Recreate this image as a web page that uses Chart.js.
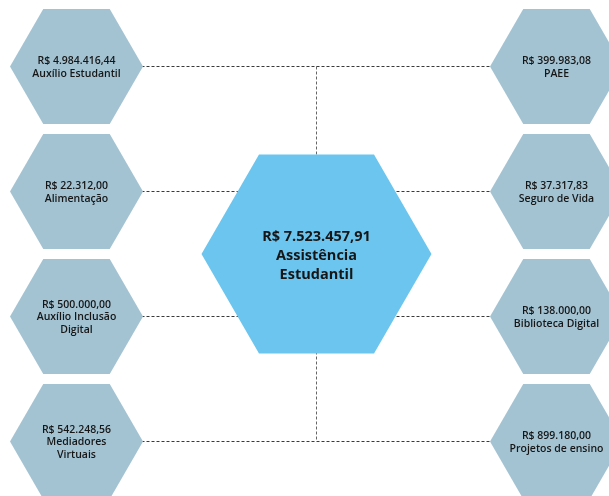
<!DOCTYPE html>
<html>
<head>
<meta charset="utf-8">
<script src="https://cdn.jsdelivr.net/npm/chart.js@4"></script>
<style>
  body { margin: 0; background: #fff; }
  canvas { display: block; }
</style>
</head>
<body>
<canvas id="myChart" width="609" height="496"></canvas>
<script>
// left column, top to bottom
const leftLabels = [["Auxílio Estudantil"], ["Alimentação"], ["Auxílio Inclusão", "Digital"], ["Mediadores", "Virtuais"]];
const leftValues = [4984416.44, 22312.0, 500000.0, 542248.56];
// right column, top to bottom
const rightLabels = [["PAEE"], ["Seguro de Vida"], ["Biblioteca Digital"], ["Projetos de ensino"]];
const rightValues = [399983.08, 37317.83, 138000.0, 899180.0];
// centre node
const totalLabel = ["Assistência", "Estudantil"];
const totalValue = 7523457.91;

function brl(v) {
  const parts = v.toFixed(2).split(".");
  const int = parts[0].replace(/\B(?=(\d{3})+(?!\d))/g, ".");
  return "R$ " + int + "," + parts[1];
}

const midRow = (leftLabels.length - 1) / 2;

const nodes = [];
leftLabels.forEach((l, i) => nodes.push({ x: 0, y: i, label: l, value: leftValues[i], main: false }));
rightLabels.forEach((l, i) => nodes.push({ x: 2, y: i, label: l, value: rightValues[i], main: false }));
nodes.push({ x: 1, y: midRow, label: totalLabel, value: totalValue, main: true });

const dash = {
  showLine: true,
  borderColor: "#3a3a3a",
  borderWidth: 1,
  borderDash: [3, 2],
  pointRadius: 0,
  order: 2,
};

const connectors = leftLabels.map((l, i) => ({
  ...dash,
  data: [{ x: 0, y: i }, { x: 2, y: i }],
}));
connectors.push({ ...dash, borderColor: "#666", data: [{ x: 1, y: 0 }, { x: 1, y: leftLabels.length - 1 }] });

const hexPlugin = {
  id: "hexNodes",
  afterDatasetsDraw(chart) {
    const ctx = chart.ctx;
    const meta = chart.getDatasetMeta(chart.data.datasets.length - 1);
    meta.data.forEach((pt, i) => {
      const n = nodes[i];
      const r = n.main ? 115 : 66.5;
      ctx.save();
      ctx.beginPath();
      for (let k = 0; k < 6; k++) {
        const a = (Math.PI / 3) * k;
        const px = pt.x + r * Math.cos(a);
        const py = pt.y + r * Math.sin(a);
        if (k === 0) ctx.moveTo(px, py);
        else ctx.lineTo(px, py);
      }
      ctx.closePath();
      ctx.fillStyle = n.main ? "#6bc5ef" : "#a3c3d3";
      ctx.fill();

      const lines = [brl(n.value)].concat(n.label);
      const lh = n.main ? 19 : 12.5;
      ctx.fillStyle = "#161616";
      ctx.textAlign = "center";
      ctx.textBaseline = "middle";
      ctx.font = n.main ? "bold 14.5px 'Open Sans'" : "600 10.5px 'Open Sans'";
      const top = pt.y + (n.main ? 2 : 1) - ((lines.length - 1) * lh) / 2;
      lines.forEach((t, j) => ctx.fillText(t, pt.x, top + j * lh));
      ctx.restore();
    });
  },
};

const myChart = new Chart(document.getElementById("myChart"), {
  type: "scatter",
  data: {
    datasets: [
      ...connectors,
      {
        data: nodes.map((n) => ({ x: n.x, y: n.y })),
        pointRadius: 0,
        pointHoverRadius: 0,
        order: 1,
      },
    ],
  },
  options: {
    responsive: false,
    animation: false,
    layout: { padding: 0 },
    plugins: { legend: { display: false }, tooltip: { enabled: false } },
    scales: {
      x: { type: "linear", display: false, min: -76.5 / 240, max: (609 - 76.5) / 240 },
      y: { type: "linear", display: false, reverse: true, min: -66.5 / 125, max: (496 - 66.5) / 125 },
    },
  },
  plugins: [hexPlugin],
});
</script>
</body>
</html>
